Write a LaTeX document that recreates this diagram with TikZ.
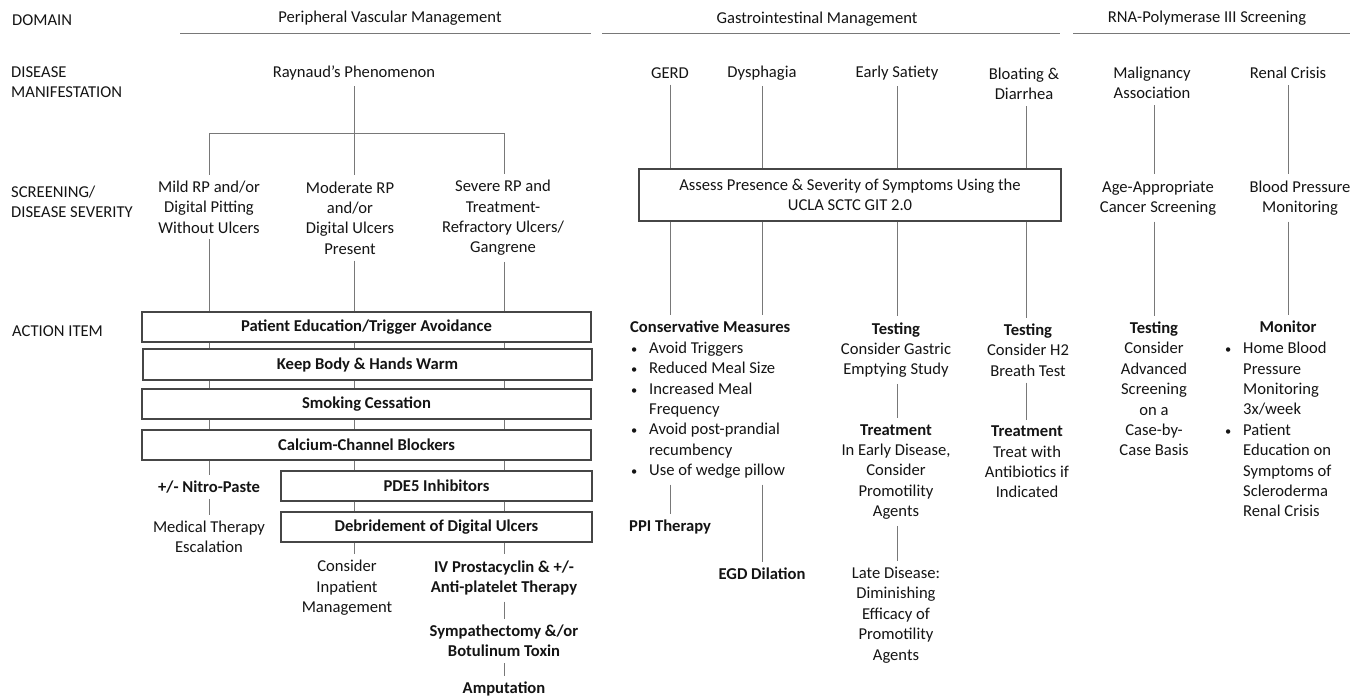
\documentclass[tikz,border=0pt]{standalone}
\usepackage{graphicx}
\usepackage{fontspec}
\setmainfont{Carlito}
\usetikzlibrary{positioning}
\definecolor{lncol}{RGB}{120,120,120}
\definecolor{boxcol}{RGB}{70,70,70}
\definecolor{txtcol}{RGB}{20,20,20}
\tikzset{
  txt/.style = {align=center, inner xsep=0pt, inner ysep=6pt, text=txtcol, font=\fontsize{16.6}{20.4}\selectfont},
  btxt/.style = {txt, font=\fontsize{16.6}{20.4}\selectfont\bfseries},
  rowlbl/.style = {txt, align=left, anchor=west},
  abox/.style = {draw=boxcol, line width=1.1pt, minimum height=30pt, inner sep=0pt, text=txtcol, font=\fontsize{16.6}{20.4}\selectfont\bfseries},
  gbox/.style = {abox, align=center, font=\fontsize{16.6}{20.4}\selectfont},
  ln/.style = {draw=lncol, line width=1pt},
}
\newcommand{\bul}{\makebox[19pt][l]{\hspace{1pt}\scalebox{0.75}{\textbullet}}}
\newcommand{\ind}{\hspace*{19pt}}

\begin{document}
\begin{tikzpicture}[x = 1pt, y = -1pt]
	\useasboundingbox (0,0) rectangle (1356,698);
	% row labels
	\node[rowlbl] (dom) at (12,20) {DOMAIN};
	\node[rowlbl] (man) at (11,82) {DISEASE\\MANIFESTATION};
	\node[rowlbl] (sev) at (11,202) {SCREENING/\\DISEASE SEVERITY};
	\node[rowlbl] (act) at (12,331) {ACTION ITEM};
	% domains
	\node[txt] (hpv) at (390,18) {Peripheral Vascular Management};
	\node[txt] (hgi) at (817,19) {Gastrointestinal Management};
	\node[txt] (hrna) at (1207,18) {RNA-Polymerase III Screening};
	\draw[ln] (180,34) -- (591,34);
	\draw[ln] (602,34) -- (1060,34);
	\draw[ln] (1073,34) -- (1350,34);

	% peripheral vascular
	\coordinate (c1) at (209,0);
	\coordinate (c2) at (354,0);
	\coordinate (c3) at (504,0);
	\coordinate (jn) at (354,133);
	\node[txt] (ray) at (354,73) {Raynaud’s Phenomenon};
	\node[txt] (mild) at (209,207) {Mild RP and/or\\Digital Pitting\\Without Ulcers};
	\node[txt] (mod) at (350,218) {Moderate RP\\and/or\\Digital Ulcers\\Present};
	\node[txt] (sevrp) at (503,218) {Severe RP and\\Treatment-\\Refractory Ulcers/\\Gangrene};
	\draw[ln] (ray) -- (jn);
	\draw[ln] (c1 |- jn) -- (c3 |- jn);
	\draw[ln] (c1 |- jn) -- (c1 |- mild.north);
	\draw[ln] (c2 |- jn) -- (c2 |- mod.north);
	\draw[ln] (c3 |- jn) -- (c3 |- sevrp.north);

	\node[abox, minimum width=449pt] (pat) at (366.5,327) {Patient Education/Trigger Avoidance};
	\node[abox, minimum width=449pt, minimum height=31pt] (warm) at (367.5,364.5) {Keep Body \& Hands Warm};
	\node[abox, minimum width=449pt] (smk) at (366.5,404) {Smoking Cessation};
	\node[abox, minimum width=449pt] (ccb) at (366.5,445) {Calcium-Channel Blockers};
	\node[abox, minimum width=311pt] (pde) at (436.5,486) {PDE5 Inhibitors};
	\node[abox, minimum width=311pt] (deb) at (436.5,527) {Debridement of Digital Ulcers};
	\draw[ln] (c1 |- mild.south) -- (c1 |- pat.north);
	\draw[ln] (c2 |- mod.south) -- (c2 |- pat.north);
	\draw[ln] (c3 |- sevrp.south) -- (c3 |- pat.north);
	\foreach \a/\b in {pat/warm, warm/smk, smk/ccb}
		\foreach \c in {c1, c2, c3}
			\draw[ln] (\c |- \a.south) -- (\c |- \b.north);
	\foreach \a/\b in {ccb/pde, pde/deb}
		\foreach \c in {c2, c3}
			\draw[ln] (\c |- \a.south) -- (\c |- \b.north);

	\node[btxt] (nitro) at (209,487) {+/- Nitro-Paste};
	\node[txt] (esc) at (209,537) {Medical Therapy\\Escalation};
	\node[txt] (inp) at (347,588) {Consider\\Inpatient\\Management};
	\node[btxt] (ivp) at (504,578) {IV Prostacyclin \& +/-\\Anti-platelet Therapy};
	\node[btxt] (sym) at (504,641) {Sympathectomy \&/or\\Botulinum Toxin};
	\node[btxt] (amp) at (504,689) {Amputation};
	\draw[ln] (c1 |- ccb.south) -- (nitro.north);
	\draw[ln] (nitro) -- (esc);
	\draw[ln] (c2 |- deb.south) -- (c2 |- inp.north);
	\draw[ln] (c3 |- deb.south) -- (ivp.north);
	\draw[ln] (ivp) -- (sym);
	\draw[ln] (sym) -- (amp);

	% gastrointestinal
	\coordinate (g1) at (670,0);
	\coordinate (g2) at (762,0);
	\coordinate (g3) at (897,0);
	\coordinate (g4) at (1026,0);
	\node[txt] (gerd) at (670,73) {GERD};
	\node[txt] (dys) at (762,73) {Dysphagia};
	\node[txt] (sat) at (897,73) {Early Satiety};
	\node[txt] (bloat) at (1024,84) {Bloating \&\\Diarrhea};
	\node[gbox, minimum width=422pt, minimum height=52pt] (gis) at (850,195) {Assess Presence \& Severity of Symptoms Using the\\UCLA SCTC GIT 2.0};
	\draw[ln] (g1 |- gerd.south) -- (g1 |- gis.north);
	\draw[ln] (g2 |- dys.south) -- (g2 |- gis.north);
	\draw[ln] (g3 |- sat.south) -- (g3 |- gis.north);
	\draw[ln] (g4 |- bloat.south) -- (g4 |- gis.north);

	\node[txt, align=left, anchor=north west] (cons) at (630,315) {\textbf{Conservative Measures}\\\bul Avoid Triggers\\\bul Reduced Meal Size\\\bul Increased Meal\\\ind Frequency\\\bul Avoid post-prandial\\\ind recumbency\\\bul Use of wedge pillow};
	\node[btxt, anchor=west] (ppi) at (629,527) {PPI Therapy};
	\node[btxt] (egd) at (762,574) {EGD Dilation};
	\node[txt] (tst1) at (896,350) {\textbf{Testing}\\Consider Gastric\\Emptying Study};
	\node[txt] (trt1) at (896,472) {\textbf{Treatment}\\In Early Disease,\\Consider\\Promotility\\Agents};
	\node[txt] (late) at (896,615) {Late Disease:\\Diminishing\\Efficacy of\\Promotility\\Agents};
	\node[txt] (tst2) at (1028,350) {\textbf{Testing}\\Consider H2\\Breath Test};
	\node[txt] (trt2) at (1027,462) {\textbf{Treatment}\\Treat with\\Antibiotics if\\Indicated};
	\draw[ln] (g1 |- gis.south) -- (g1 |- cons.north);
	\draw[ln] (g2 |- gis.south) -- (g2 |- cons.north);
	\draw[ln] (g3 |- gis.south) -- (g3 |- tst1.north);
	\draw[ln] (g4 |- gis.south) -- (g4 |- tst2.north);
	\draw[ln] (g1 |- cons.south) -- (g1 |- ppi.north);
	\draw[ln] (g2 |- cons.south) -- (egd.north);
	\draw[ln] (g3 |- tst1.south) -- (g3 |- trt1.north);
	\draw[ln] (g3 |- trt1.south) -- (g3 |- late.north);
	\draw[ln] (g4 |- tst2.south) -- (g4 |- trt2.north);

	% rna-polymerase iii
	\coordinate (r1) at (1154,0);
	\coordinate (r2) at (1288,0);
	\node[txt] (mal) at (1152,83) {Malignancy\\Association};
	\node[txt] (ren) at (1288,73) {Renal Crisis};
	\node[txt] (age) at (1158,198) {Age-Appropriate\\Cancer Screening};
	\node[txt] (bp) at (1300,198) {Blood Pressure\\Monitoring};
	\node[txt] (tst3) at (1154,389) {\textbf{Testing}\\Consider\\Advanced\\Screening\\on a\\Case-by-\\Case Basis};
	\node[btxt] (mon) at (1288,327) {Monitor};
	\node[txt, align=left, anchor=north west] (monl) at (1224,336) {\bul Home Blood\\\ind Pressure\\\ind Monitoring\\\ind 3x/week\\\bul Patient\\\ind Education on\\\ind Symptoms of\\\ind Scleroderma\\\ind Renal Crisis};
	\draw[ln] (r1 |- mal.south) -- (r1 |- age.north);
	\draw[ln] (r2 |- ren.south) -- (r2 |- bp.north);
	\draw[ln] (r1 |- age.south) -- (tst3.north);
	\draw[ln] (r2 |- bp.south) -- (mon.north);
\end{tikzpicture}
\end{document}
